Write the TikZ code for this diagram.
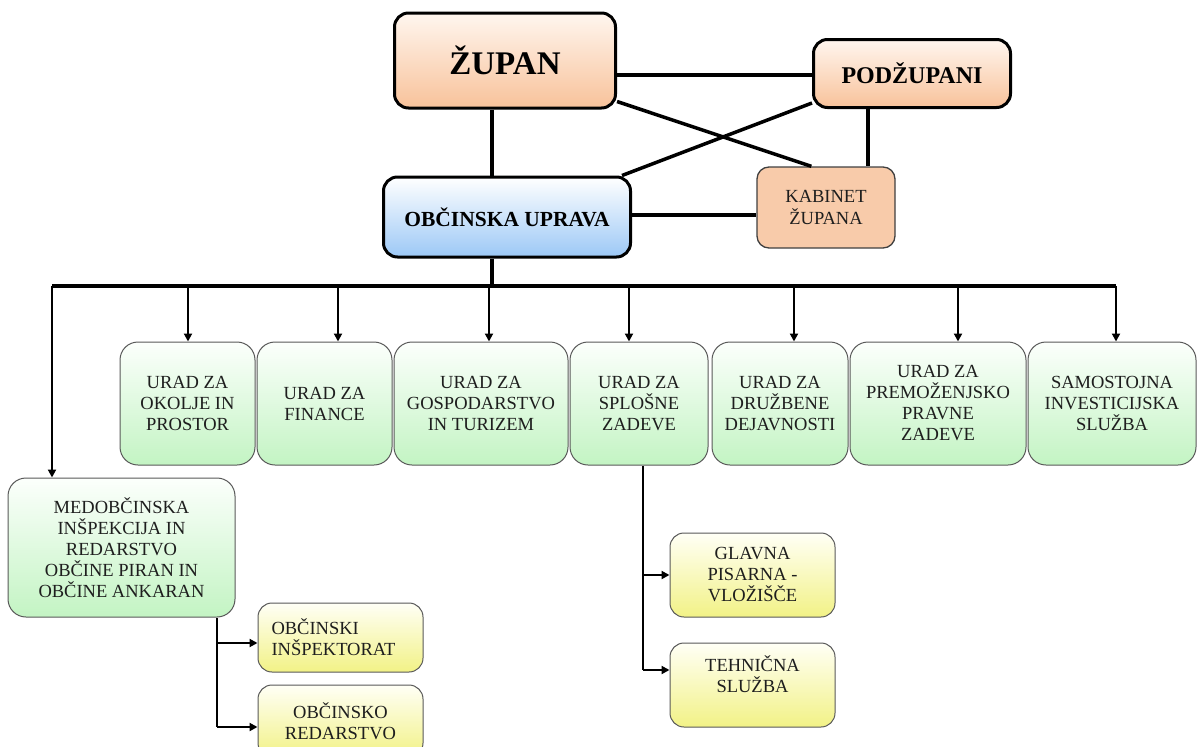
\documentclass[tikz,border=0pt]{standalone}
\usepackage{fontspec}
\setmainfont{Liberation Serif}
\usetikzlibrary{arrows.meta,calc}
\definecolor{orgT}{HTML}{FFF6EF}
\definecolor{orgB}{HTML}{F8C29A}
\definecolor{kab}{HTML}{F8CBAA}
\definecolor{bluB}{HTML}{9CC8F6}
\definecolor{grnT}{HTML}{FCFFFC}
\definecolor{grnB}{HTML}{C3F4C3}
\definecolor{yelT}{HTML}{FFFFF6}
\definecolor{yelB}{HTML}{F2F286}
\definecolor{txt}{HTML}{1E1E1E}
\begin{document}
\begin{tikzpicture}[x=1pt,y=-1pt,
  topbox/.style={draw=black, line width=3pt, rounded corners=14pt, align=center, inner sep=0pt},
  lowbox/.style={draw=black!65, line width=1pt, rounded corners=18pt, align=center, inner sep=0pt,
     top color=grnT, bottom color=grnB, text=txt, font=\fontsize{18.5}{21}\selectfont},
  subbox/.style={draw=black!65, line width=1pt, rounded corners=14pt, align=center, inner sep=0pt,
     top color=yelT, bottom color=yelB, text=txt, font=\fontsize{18.5}{21}\selectfont},
  thick line/.style={line width=3.5pt},
  arr/.style={line width=2pt, -{Triangle[width=8pt,length=8pt]}},
  conn/.style={line width=2pt}
]
\useasboundingbox (0,0) rectangle (1197,747);

% top level
\node[topbox, top color=orgT, bottom color=orgB, minimum width=221pt, minimum height=95pt,
  font=\bfseries\fontsize{33}{38}\selectfont] (zu) at (505,60.5) {ŽUPAN};
\node[topbox, top color=orgT, bottom color=orgB, minimum width=197pt, minimum height=68pt,
  font=\bfseries\fontsize{24}{28}\selectfont] (pod) at (912,73.5) {PODŽUPANI};
\node[topbox, top color=white, bottom color=bluB, minimum width=247pt, minimum height=80pt,
  font=\bfseries\fontsize{21.5}{24}\selectfont] (ou) at (507,217) {OBČINSKA UPRAVA};
\node[draw=black!75, line width=1.3pt, rounded corners=12pt, fill=kab, align=center, inner sep=0pt,
  minimum width=138pt, minimum height=81pt, text=txt, font=\fontsize{18.5}{22}\selectfont]
  (kab) at (826,207.5) {KABINET\\ŽUPANA};

\draw[thick line] (pod.west |- 0,75) -- (zu.east |- 0,75);
\draw[thick line] (zu.south -| 492,0) -- (ou.north -| 492,0);
\draw[thick line] (pod.south -| 868,0) -- (kab.north -| 868,0);
\draw[thick line] (ou.east |- 0,215) -- (kab.west |- 0,215);
\draw[thick line] (zu.south east) ++(0,-8) coordinate (c1) -- ($(kab.north west)+(55,0)$);
\draw[thick line] (pod.south west) ++(0,-6) coordinate (c2) -- ($(ou.north east)+(-10,0)$);

% level 2 boxes
\node[lowbox, minimum width=135pt, minimum height=123pt] (b1) at (187.5,403.5) {URAD ZA\\OKOLJE IN\\PROSTOR};
\node[lowbox, minimum width=135pt, minimum height=123pt] (b2) at (324.5,403.5) {URAD ZA\\FINANCE};
\node[lowbox, minimum width=174pt, minimum height=123pt] (b3) at (481,403.5) {URAD ZA\\GOSPODARSTVO\\IN TURIZEM};
\node[lowbox, minimum width=138pt, minimum height=123pt] (b4) at (639,403.5) {URAD ZA\\SPLOŠNE\\ZADEVE};
\node[lowbox, minimum width=136pt, minimum height=123pt] (b5) at (780,403.5) {URAD ZA\\DRUŽBENE\\DEJAVNOSTI};
\node[lowbox, minimum width=176pt, minimum height=123pt] (b6) at (938,403.5) {URAD ZA\\PREMOŽENJSKO\\PRAVNE\\ZADEVE};
\node[lowbox, minimum width=168pt, minimum height=123pt] (b7) at (1112,403.5) {SAMOSTOJNA\\INVESTICIJSKA\\SLUŽBA};
\node[lowbox, minimum width=227pt, minimum height=139pt] (med) at (121.5,547.5)
  {MEDOBČINSKA\\INŠPEKCIJA IN\\REDARSTVO\\OBČINE PIRAN IN\\OBČINE ANKARAN};

% sub boxes
\node[subbox, minimum width=165pt, minimum height=69pt, align=left, text width=138pt] (oi) at (340.5,637.5) {OBČINSKI\\INŠPEKTORAT};
\node[subbox, minimum width=165pt, minimum height=72pt] (or) at (340.5,721) {OBČINSKO\\REDARSTVO};
\node[subbox, minimum width=165pt, minimum height=84pt] (gp) at (752.5,575) {GLAVNA\\PISARNA -\\VLOŽIŠČE};
\node[subbox, minimum width=165pt, minimum height=84pt] (ts) at (752.5,685) {TEHNIČNA\\SLUŽBA\\~};

% bus
\coordinate (bus) at (492,286);
\coordinate (busL) at (52,286);
\coordinate (busR) at (1116,286);
\draw[thick line] (ou.south -| bus) -- (bus);
\draw[thick line] (busL) -- (busR);
\foreach \x/\b in {188/b1,338/b2,489/b3,629/b4,794/b5,958/b6,1116/b7}{
  \draw[arr] (\x,286) -- (\b.north -| \x,0);
}
\draw[arr] (busL) -- (med.north -| busL);

% sub connectors
\coordinate (mx) at (217,0);
\draw[conn] (med.south -| mx) -- (mx |- 0,727);
\draw[arr] (mx |- 0,643) -- (oi.west |- 0,643);
\draw[arr] (mx |- 0,727) -- (or.west |- 0,727);
\coordinate (sx) at (643,0);
\draw[conn] (b4.south -| sx) -- (sx |- 0,670);
\draw[arr] (sx |- 0,575) -- (gp.west |- 0,575);
\draw[arr] (sx |- 0,670) -- (ts.west |- 0,670);
\end{tikzpicture}
\end{document}
